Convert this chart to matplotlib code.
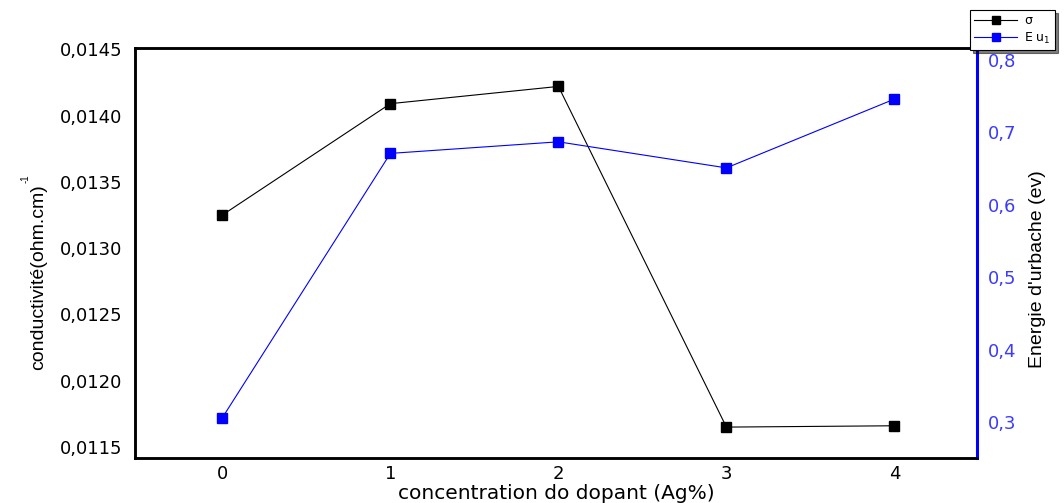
import matplotlib
matplotlib.use("Agg")
import matplotlib.pyplot as plt
from matplotlib.ticker import FuncFormatter

plt.rcParams['font.family'] = ['DejaVu Sans']

dopant = [0, 1, 2, 3, 4]
sigma = [0.01325, 0.01409, 0.01422, 0.01165, 0.01166]
eu = [0.306, 0.671, 0.687, 0.651, 0.746]

left_ticks = [0.0115, 0.0120, 0.0125, 0.0130, 0.0135, 0.0140, 0.0145]
right_ticks = [0.3, 0.4, 0.5, 0.6, 0.7, 0.8]

fig = plt.figure(figsize=(10.64, 5.03), dpi=100)
ax = fig.add_axes([0.1269, 0.0895, 0.7911, 0.8151])
ax2 = ax.twinx()

l1, = ax.plot(dopant, sigma, color='black', lw=0.8, marker='s', ms=7, label='σ')
l2, = ax2.plot(dopant, eu, color='blue', lw=0.8, marker='s', ms=7, label='E u$_1$')

ax.set_xlim(-0.52, 4.49)
ax.set_ylim(0.011417, 0.01451)
ax2.set_ylim(0.2503, 0.8166)
ax.set_xticks(dopant)
ax.set_yticks(left_ticks)
ax2.set_yticks(right_ticks)

ax.yaxis.set_major_formatter(FuncFormatter(lambda v, p: ('%.4f' % v).replace('.', ',')))
ax2.yaxis.set_major_formatter(FuncFormatter(lambda v, p: ('%.1f' % v).replace('.', ',')))

ax.tick_params(axis='both', length=0, labelsize=13, pad=9)
ax.tick_params(axis='x', pad=5)
ax2.tick_params(axis='y', length=0, labelsize=13, labelcolor='#3b3bff', pad=8)

for s in ax.spines.values():
    s.set_linewidth(1.8)
for s in ax2.spines.values():
    s.set_linewidth(1.8)
ax2.spines['right'].set_color('blue')
ax2.spines['right'].set_linewidth(2.2)

ax.set_xlabel('concentration do dopant (Ag%)', fontsize=14.5, labelpad=1)
fig.text(0.036, 0.45, 'conductivité(ohm.cm)', rotation=90, fontsize=14,
         family='Liberation Sans', ha='center', va='center')
fig.text(0.024, 0.645, '-1', rotation=90, fontsize=7,
         family='Liberation Sans', ha='center', va='center')
fig.text(0.975, 0.465, "Energie d'urbache (ev)", rotation=90, fontsize=14,
         family='Liberation Sans', ha='center', va='center')

leg = fig.legend([l1, l2], ['σ', 'E u$_1$'], loc='upper left',
                 bbox_to_anchor=(0.9117, 0.98), borderaxespad=0, fontsize=9,
                 frameon=True, fancybox=False, shadow={'color': 'black'},
                 handlelength=3.4, markerscale=0.8, borderpad=0.35,
                 labelspacing=0.25, handletextpad=0.6)
leg.get_frame().set_edgecolor('black')
leg.get_frame().set_linewidth(0.8)

fig.savefig('out.png', dpi=100)
